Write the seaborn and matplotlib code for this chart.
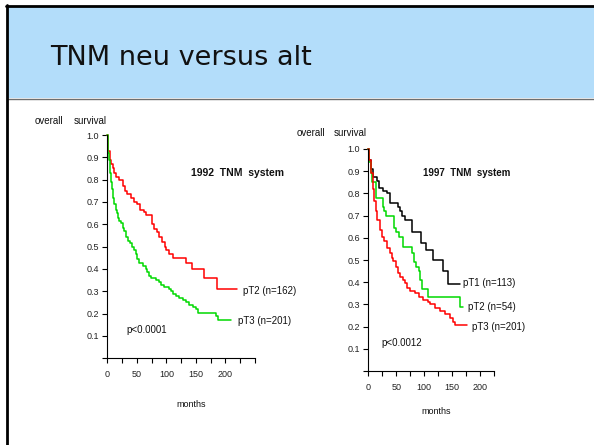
import numpy as np
import pandas as pd
import matplotlib
matplotlib.use("Agg")
import matplotlib.pyplot as plt
import seaborn as sns
from matplotlib.patches import Rectangle
from matplotlib.lines import Line2D

# ---------------- data ----------------
# 1992 TNM system
L_T2_t = [0, 1, 2, 4, 6, 9, 12, 15, 19, 26, 30, 34, 40, 45, 50, 56, 62, 65, 75, 79,
          84, 88, 93, 97, 100, 104, 112, 133, 144, 164, 186, 220]
L_T2_s = [1.0, 0.96, 0.93, 0.89, 0.87, 0.85, 0.83, 0.81, 0.80, 0.77, 0.75, 0.735, 0.72, 0.70,
          0.69, 0.665, 0.655, 0.64, 0.60, 0.58, 0.565, 0.545, 0.52, 0.50, 0.485, 0.465, 0.45,
          0.425, 0.40, 0.36, 0.31, 0.31]
L_T3_t = [0, 1, 2, 3, 4, 5, 6, 7, 8, 9, 10, 12, 14, 16, 18, 20, 23, 26, 29, 32,
          35, 38, 42, 45, 48, 51, 54, 60, 65, 68, 71, 74, 82, 87, 91, 96, 104, 108, 112, 116,
          122, 128, 134, 139, 145, 150, 153, 184, 188, 210]
L_T3_s = [1.0, 0.95, 0.92, 0.89, 0.86, 0.83, 0.81, 0.79, 0.76, 0.74, 0.72, 0.69, 0.665, 0.65,
          0.63, 0.615, 0.605, 0.585, 0.57, 0.545, 0.525, 0.515, 0.50, 0.485, 0.465, 0.445, 0.425,
          0.415, 0.40, 0.385, 0.37, 0.36, 0.35, 0.34, 0.33, 0.32, 0.31, 0.30, 0.29, 0.28,
          0.27, 0.26, 0.25, 0.24, 0.23, 0.22, 0.205, 0.19, 0.17, 0.17]

# 1997 TNM system
R_T1_t = [0, 2, 5, 9, 15, 19, 27, 34, 38, 54, 57, 60, 66, 78, 95, 103, 116, 134, 143, 164]
R_T1_s = [1.0, 0.95, 0.91, 0.875, 0.855, 0.825, 0.81, 0.80, 0.755, 0.74, 0.72, 0.70, 0.68,
          0.625, 0.575, 0.545, 0.50, 0.45, 0.39, 0.39]
R_T2_t = [0, 2, 4, 6, 13, 27, 29, 32, 46, 50, 55, 63, 79, 82, 86, 90, 93, 97, 107, 164, 170]
R_T2_s = [1.0, 0.94, 0.89, 0.85, 0.78, 0.74, 0.72, 0.70, 0.645, 0.625, 0.605, 0.56, 0.53,
          0.49, 0.47, 0.45, 0.41, 0.37, 0.335, 0.29, 0.29]
R_T3_t = [0, 2, 5, 8, 10, 14, 16, 21, 24, 28, 33, 38, 42, 45, 50, 54, 57, 62, 66, 70,
          75, 84, 90, 98, 107, 110, 119, 128, 137, 146, 152, 155, 176]
R_T3_s = [1.0, 0.95, 0.89, 0.82, 0.765, 0.72, 0.68, 0.635, 0.605, 0.585, 0.555, 0.53, 0.51,
          0.495, 0.47, 0.44, 0.425, 0.41, 0.395, 0.375, 0.36, 0.35, 0.335, 0.32, 0.31, 0.30,
          0.285, 0.27, 0.255, 0.24, 0.22, 0.207, 0.207]

y_ticks = [0.0, 0.1, 0.2, 0.3, 0.4, 0.5, 0.6, 0.7, 0.8, 0.9, 1.0]
y_labels = ["", "0.1", "0.2", "0.3", "0.4", "0.5", "0.6", "0.7", "0.8", "0.9", "1.0"]
x_ticks = [0, 50, 100, 150, 200]
x_labels = ["0", "50", "100", "150", "200"]

# ---------------- figure ----------------
sns.set_style("ticks")
plt.rcParams["font.family"] = ["Liberation Sans", "DejaVu Sans"]

W, H = 594, 445
fig = plt.figure(figsize=(W / 100, H / 100), dpi=100)
fig.patch.set_facecolor("white")


def fx(px):
    return px / W


def fy(py):
    return 1 - py / H


# banner
fig.patches.append(Rectangle((fx(8), fy(98)), fx(W) - fx(8), fy(7) - fy(98),
                             transform=fig.transFigure, facecolor="#B3DDFA",
                             edgecolor="none", zorder=0))
fig.lines.append(Line2D([fx(8), fx(W)], [fy(98.5), fy(98.5)], transform=fig.transFigure,
                        color="#6e6e6e", lw=1.0, zorder=1))
fig.lines.append(Line2D([fx(6), fx(W)], [fy(6), fy(6)], transform=fig.transFigure,
                        color="black", lw=2.0, zorder=2))
fig.lines.append(Line2D([fx(7), fx(7)], [fy(5), fy(H)], transform=fig.transFigure,
                        color="black", lw=2.0, zorder=2))
fig.text(fx(50), fy(65), "TNM neu versus alt", family="DejaVu Sans", fontsize=19.5,
         color="#111111", va="baseline", ha="left")


def make_df(groups):
    frames = []
    for name, t, s in groups:
        frames.append(pd.DataFrame({"months": t, "survival": s, "group": name}))
    return pd.concat(frames, ignore_index=True)


def style_axes(ax, xmax, minor):
    ax.set_xlim(0, xmax)
    ax.set_ylim(0, 1.0)
    ax.set_facecolor("none")
    for sp in ["top", "right"]:
        ax.spines[sp].set_visible(False)
    for sp in ["left", "bottom"]:
        ax.spines[sp].set_linewidth(0.8)
        ax.spines[sp].set_color("black")
    ax.set_yticks(y_ticks)
    ax.set_yticklabels(y_labels)
    ax.set_xticks(x_ticks)
    ax.set_xticklabels(x_labels)
    ax.set_xticks(minor, minor=True)
    ax.tick_params(axis="both", which="both", direction="out", length=3.6, width=0.8,
                   color="black", labelsize=6.5, labelcolor="#222222")
    ax.tick_params(axis="x", which="major", pad=5)
    ax.tick_params(axis="y", which="major", pad=2.5)
    ax.set_xlabel("")
    ax.set_ylabel("")


# left panel
ax1 = fig.add_axes([fx(107.3), fy(358.3), (255 - 107.3) / W, 223.3 / H])
dfL = make_df([("pT2", L_T2_t, L_T2_s), ("pT3", L_T3_t, L_T3_s)])
sns.lineplot(data=dfL, x="months", y="survival", hue="group",
             palette={"pT2": "#FF0000", "pT3": "#00D800"}, estimator=None, sort=False,
             drawstyle="steps-post", linewidth=1.1, legend=False, ax=ax1, clip_on=False)
style_axes(ax1, 250, [25, 75, 125, 175, 225, 250])

# right panel
ax2 = fig.add_axes([fx(368.3), fy(371), 125.6 / W, 222 / H])
dfR = make_df([("pT1", R_T1_t, R_T1_s), ("pT2", R_T2_t, R_T2_s), ("pT3", R_T3_t, R_T3_s)])
sns.lineplot(data=dfR, x="months", y="survival", hue="group",
             palette={"pT1": "#000000", "pT2": "#00D800", "pT3": "#FF0000"}, estimator=None,
             sort=False, drawstyle="steps-post", linewidth=1.1, legend=False, ax=ax2,
             clip_on=False)
style_axes(ax2, 225, [25, 75, 125, 175, 225])

# annotations
def t(px, py, s, **kw):
    kw.setdefault("fontsize", 7)
    kw.setdefault("color", "#111111")
    fig.text(fx(px), fy(py), s, va="baseline", **kw)

t(35, 124.5, "overall")
t(74, 124.5, "survival")
t(190.7, 176.5, "1992  TNM  system", fontsize=7.5, fontweight="bold")
t(243.3, 293.5, "pT2 (n=162)")
t(238.3, 324, "pT3 (n=201)")
t(126.7, 333.3, "p<0.0001")
t(190.7, 407, "months", ha="center", fontsize=6.5)

t(297, 136.5, "overall")
t(334, 136.5, "survival")
t(423.3, 176.5, "1997  TNM  system", fontsize=7, fontweight="bold")
t(463.3, 286.5, "pT1 (n=113)")
t(468.3, 310, "pT2 (n=54)")
t(471.7, 330.5, "pT3 (n=201)")
t(381.7, 346, "p<0.0012")
t(436, 414, "months", ha="center", fontsize=6.5)

fig.savefig("out.png", dpi=100)
